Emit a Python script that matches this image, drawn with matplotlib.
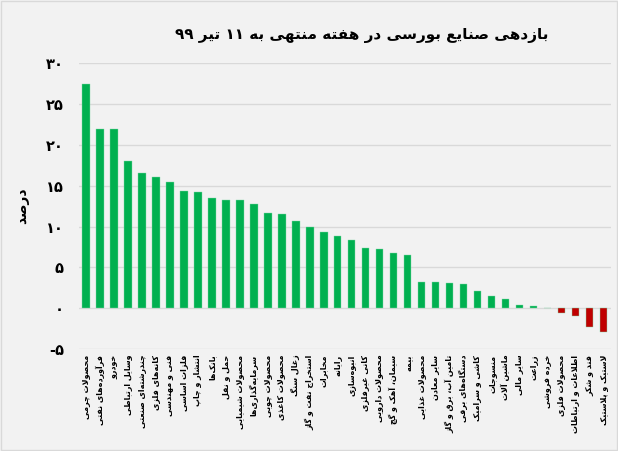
"""Weekly returns of stock exchange industries (week ending 11 Tir 99)."""

import matplotlib

matplotlib.use("Agg")
import matplotlib.pyplot as plt

industries = [
    "محصولات چرمی", "فرآورده‌های نفتی", "خودرو", "وسایل ارتباطی",
    "چندرشته‌ای صنعتی", "کانه‌های فلزی", "فنی و مهندسی", "فلزات اساسی",
    "انتشار و چاپ", "بانک‌ها", "حمل و نقل", "محصولات شیمیایی",
    "سرمایه‌گذاری‌ها", "محصولات چوبی", "محصولات کاغذی", "زغال سنگ",
    "استخراج نفت و گاز", "مخابرات", "رایانه", "انبوه‌سازی",
    "کانی غیرفلزی", "محصولات دارویی", "سیمان، آهک و گچ", "بیمه",
    "محصولات غذایی", "سایر معادن", "تامین آب، برق و گاز", "دستگاه‌های برقی",
    "کاشی و سرامیک", "منسوجات", "ماشین آلات", "سایر مالی",
    "زراعت", "خرده فروشی", "محصولات فلزی", "اطلاعات و ارتباطات",
    "قند و شکر", "لاستیک و پلاستیک",
]
returns = [
    27.5, 21.9, 21.9, 18.0, 16.5, 16.1, 15.5, 14.35,
    14.25, 13.5, 13.3, 13.2, 12.7, 11.7, 11.5, 10.7,
    10.0, 9.3, 8.8, 8.4, 7.35, 7.25, 6.75, 6.5,
    3.25, 3.17, 3.13, 2.93, 2.07, 1.54, 1.1, 0.4,
    0.25, 0.0, -0.57, -0.9, -2.28, -2.88,
]
y_ticks = [-5, 0, 5, 10, 15, 20, 25, 30]
title_text = "بازدهی صنایع بورسی در هفته منتهی به ۱۱ تیر ۹۹"
y_label_text = "درصد"

# presentation forms: (isolated, final, initial, medial); right-joining letters have two
FORMS = {
    "ا": (0xFE8D, 0xFE8E), "آ": (0xFE81, 0xFE82),
    "ب": (0xFE8F, 0xFE90, 0xFE91, 0xFE92), "پ": (0xFB56, 0xFB57, 0xFB58, 0xFB59),
    "ت": (0xFE95, 0xFE96, 0xFE97, 0xFE98), "ث": (0xFE99, 0xFE9A, 0xFE9B, 0xFE9C),
    "ج": (0xFE9D, 0xFE9E, 0xFE9F, 0xFEA0), "چ": (0xFB7A, 0xFB7B, 0xFB7C, 0xFB7D),
    "ح": (0xFEA1, 0xFEA2, 0xFEA3, 0xFEA4), "خ": (0xFEA5, 0xFEA6, 0xFEA7, 0xFEA8),
    "د": (0xFEA9, 0xFEAA), "ذ": (0xFEAB, 0xFEAC), "ر": (0xFEAD, 0xFEAE),
    "ز": (0xFEAF, 0xFEB0), "ژ": (0xFB8A, 0xFB8B),
    "س": (0xFEB1, 0xFEB2, 0xFEB3, 0xFEB4), "ش": (0xFEB5, 0xFEB6, 0xFEB7, 0xFEB8),
    "ص": (0xFEB9, 0xFEBA, 0xFEBB, 0xFEBC), "ض": (0xFEBD, 0xFEBE, 0xFEBF, 0xFEC0),
    "ط": (0xFEC1, 0xFEC2, 0xFEC3, 0xFEC4), "ظ": (0xFEC5, 0xFEC6, 0xFEC7, 0xFEC8),
    "ع": (0xFEC9, 0xFECA, 0xFECB, 0xFECC), "غ": (0xFECD, 0xFECE, 0xFECF, 0xFED0),
    "ف": (0xFED1, 0xFED2, 0xFED3, 0xFED4), "ق": (0xFED5, 0xFED6, 0xFED7, 0xFED8),
    "ک": (0xFB8E, 0xFB8F, 0xFB90, 0xFB91), "گ": (0xFB92, 0xFB93, 0xFB94, 0xFB95),
    "ل": (0xFEDD, 0xFEDE, 0xFEDF, 0xFEE0), "م": (0xFEE1, 0xFEE2, 0xFEE3, 0xFEE4),
    "ن": (0xFEE5, 0xFEE6, 0xFEE7, 0xFEE8), "و": (0xFEED, 0xFEEE),
    "ه": (0xFEE9, 0xFEEA, 0xFEEB, 0xFEEC), "ی": (0xFBFC, 0xFBFD, 0xFBFE, 0xFBFF),
}
LAM_ALEF = {"ا": (0xFEFB, 0xFEFC), "آ": (0xFEF5, 0xFEF6)}


def joins_left(ch):
    return ch in FORMS and len(FORMS[ch]) == 4


def fa(text):
    """Shape Persian text and put it in visual order for matplotlib."""
    chars = list(text)
    out = []
    i = 0
    while i < len(chars):
        c = chars[i]
        if c not in FORMS:
            if c != "\u200c":
                out.append(c)
            i += 1
            continue
        prev_join = i > 0 and joins_left(chars[i - 1])
        nxt = chars[i + 1] if i + 1 < len(chars) else ""
        if c == "ل" and nxt in LAM_ALEF:
            out.append(chr(LAM_ALEF[nxt][1 if prev_join else 0]))
            i += 2
            continue
        forms = FORMS[c]
        next_join = len(forms) == 4 and nxt in FORMS
        if prev_join and next_join:
            code = forms[3]
        elif next_join:
            code = forms[2]
        elif prev_join:
            code = forms[1]
        else:
            code = forms[0]
        out.append(chr(code))
        i += 1
    out.reverse()
    # keep digit runs left-to-right
    result, run = [], []
    for ch in out:
        if "\u06f0" <= ch <= "\u06f9" or ch.isdigit():
            run.append(ch)
        else:
            result.extend(reversed(run))
            run = []
            result.append(ch)
    result.extend(reversed(run))
    return "".join(result)


def to_fa_digits(value):
    text = str(value)
    return text.translate(str.maketrans("0123456789", "۰۱۲۳۴۵۶۷۸۹"))


def main():
    plt.rcParams["font.family"] = ["DejaVu Sans"]
    bg = "#F2F2F2"
    fig = plt.figure(figsize=(6.18, 4.51), dpi=100, facecolor=bg)
    fig.patches.append(plt.Rectangle((0.002, 0.002), 0.996, 0.996, transform=fig.transFigure,
                                     fill=False, edgecolor="#D9D9D9", linewidth=1))
    ax = fig.add_axes([0.128, 0.226, 0.86, 0.634], facecolor=bg)

    x = list(range(len(industries)))
    colors = ["#00B050" if v >= 0 else "#C00000" for v in returns]
    ax.bar(x, returns, width=0.52, color=colors, edgecolor="#7FD7A7", linewidth=0.3, zorder=3)

    ax.set_xlim(-0.5, len(industries) - 0.5)
    ax.set_ylim(-5, 30)
    ax.set_yticks(y_ticks)
    ax.set_yticklabels([to_fa_digits(v) if v >= 0 else "-" + to_fa_digits(-v) for v in y_ticks],
                       fontsize=10.5, fontweight="bold")
    ax.set_xticks(x)
    ax.set_xticklabels([fa(s) for s in industries], rotation=90, fontsize=5.8,
                       fontweight="bold", va="top", ha="center")
    ax.tick_params(axis="both", length=0)
    ax.tick_params(axis="y", pad=11)
    ax.tick_params(axis="x", pad=4)
    ax.grid(axis="y", color="#D9D9D9", linewidth=1, zorder=0)
    for spine in ax.spines.values():
        spine.set_visible(False)

    ax.set_ylabel(fa(y_label_text), fontsize=10, fontweight="bold", labelpad=12)
    fig.text(0.585, 0.922, fa(title_text), ha="center", va="center",
             fontsize=11, fontweight="bold")

    fig.savefig("out.png", dpi=100, facecolor=bg)
    plt.close(fig)


if __name__ == "__main__":
    main()
